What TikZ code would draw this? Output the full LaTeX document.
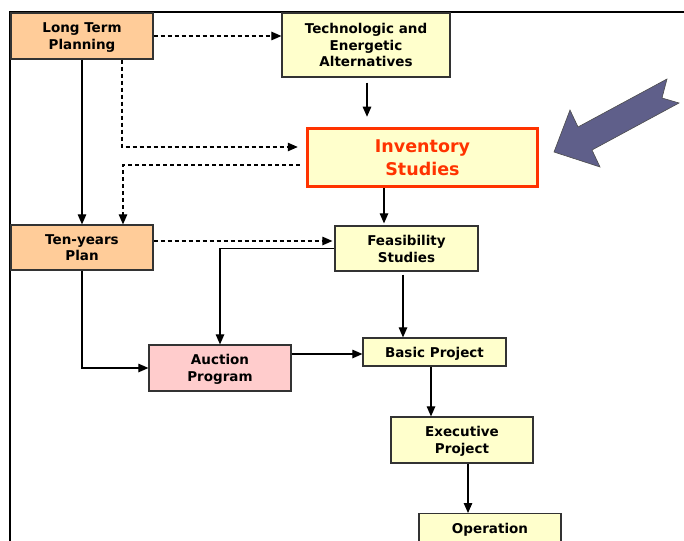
\documentclass[tikz,border=0pt]{standalone}
\usepackage{fontspec}
\setmainfont{DejaVu Sans}
\usetikzlibrary{arrows.meta,calc}
\definecolor{planorange}{HTML}{FFCC99}
\definecolor{studyyellow}{HTML}{FFFFCC}
\definecolor{auctionpink}{HTML}{FFCCCC}
\definecolor{invred}{HTML}{FF3300}
\definecolor{pointerblue}{HTML}{5F5F8A}

\begin{document}
\begin{tikzpicture}[x=1pt,y=-1pt,
  stage/.style={draw=black!80,line width=1.2pt,align=center,inner sep=0pt,text depth=0pt,
    minimum width=142pt,minimum height=46pt,font=\fontsize{13.5}{16.8}\selectfont\bfseries},
  plan/.style={stage,fill=planorange},
  study/.style={stage,fill=studyyellow},
  auction/.style={stage,fill=auctionpink},
  flow/.style={-{Triangle[length=10pt,width=8.5pt]},line width=1.1pt},
  link/.style={flow,dash pattern=on 4pt off 3pt}]
  \useasboundingbox (0,0) rectangle (684,540);
  \clip (0,0) rectangle (684,540);
  \draw[line width=2pt] (10,541) |- (685,12);

  \node[plan] (ltp) at (82,36) {Long Term\\Planning};
  \node[study,minimum width=168pt,minimum height=64pt] (tea) at (366,45) {Technologic and\\Energetic\\Alternatives};
  \node[study,draw=invred,line width=3.5pt,minimum width=230pt,minimum height=58pt,text=invred,
    font=\fontsize{17.5}{23.6}\selectfont\bfseries] (inv) at (422.5,157.5) {Inventory\\Studies};
  \node[plan,minimum height=45pt] (typ) at (82,247.5) {Ten-years\\Plan};
  \node[study,minimum width=143pt,minimum height=45pt] (fea) at (406.5,248.5) {Feasibility\\Studies};
  \node[auction] (auc) at (220,368) {Auction\\Program};
  \node[study,minimum width=143pt,minimum height=28pt] (bas) at (434.5,352) {Basic Project};
  \node[study] (exe) at (462,440) {Executive\\Project};
  \node[study,anchor=north,text height=14pt,text depth=26pt,inner ysep=6pt] (ope) at (490,513) {Operation};

  \draw[link] (ltp.east) -- (ltp.east -| tea.west);
  \draw[flow,shorten >=10pt] ($(tea.south)+(1,5)$) coordinate (t1) -- (t1 |- inv.north);
  \draw[link,shorten >=8pt] ($(ltp.south)+(40,0)$) |- ($(inv.west)+(0,-10.5)$);
  \draw[link,shorten <=6pt] ($(inv.west)+(0,7.5)$) -| ($(typ.north)+(41,0)$);
  \draw[flow] (ltp.south) -- (typ.north);
  \draw[link,shorten >=2pt] ($(typ.east)+(0,-6.5)$) coordinate (t2) -- (t2 -| fea.west);
  \draw[flow,shorten >=2pt] ($(inv.south)+(-38.5,0)$) coordinate (t3) -- (t3 |- fea.north);
  \draw[flow] (fea.west) -| (auc.north);
  \draw[flow] (typ.south) |- (auc.west);
  \draw[flow] ($(auc.east)+(0,-14)$) coordinate (t4) -- (t4 -| bas.west);
  \draw[flow] ($(fea.south)+(-3.5,3)$) coordinate (t5) -- (t5 |- bas.north);
  \draw[flow] ($(bas.south)+(-3.5,0)$) coordinate (t6) -- (t6 |- exe.north);
  \draw[flow] ($(exe.south)+(6,0)$) coordinate (t7) -- (t7 |- ope.north);

  \fill[pointerblue,draw=black!70,line width=0.6pt] (554,152) -- (570,110) -- (578,127) -- (667,79)
    -- (662,98) -- (679,103) -- (592,150) -- (600,167) -- cycle;
\end{tikzpicture}
\end{document}
